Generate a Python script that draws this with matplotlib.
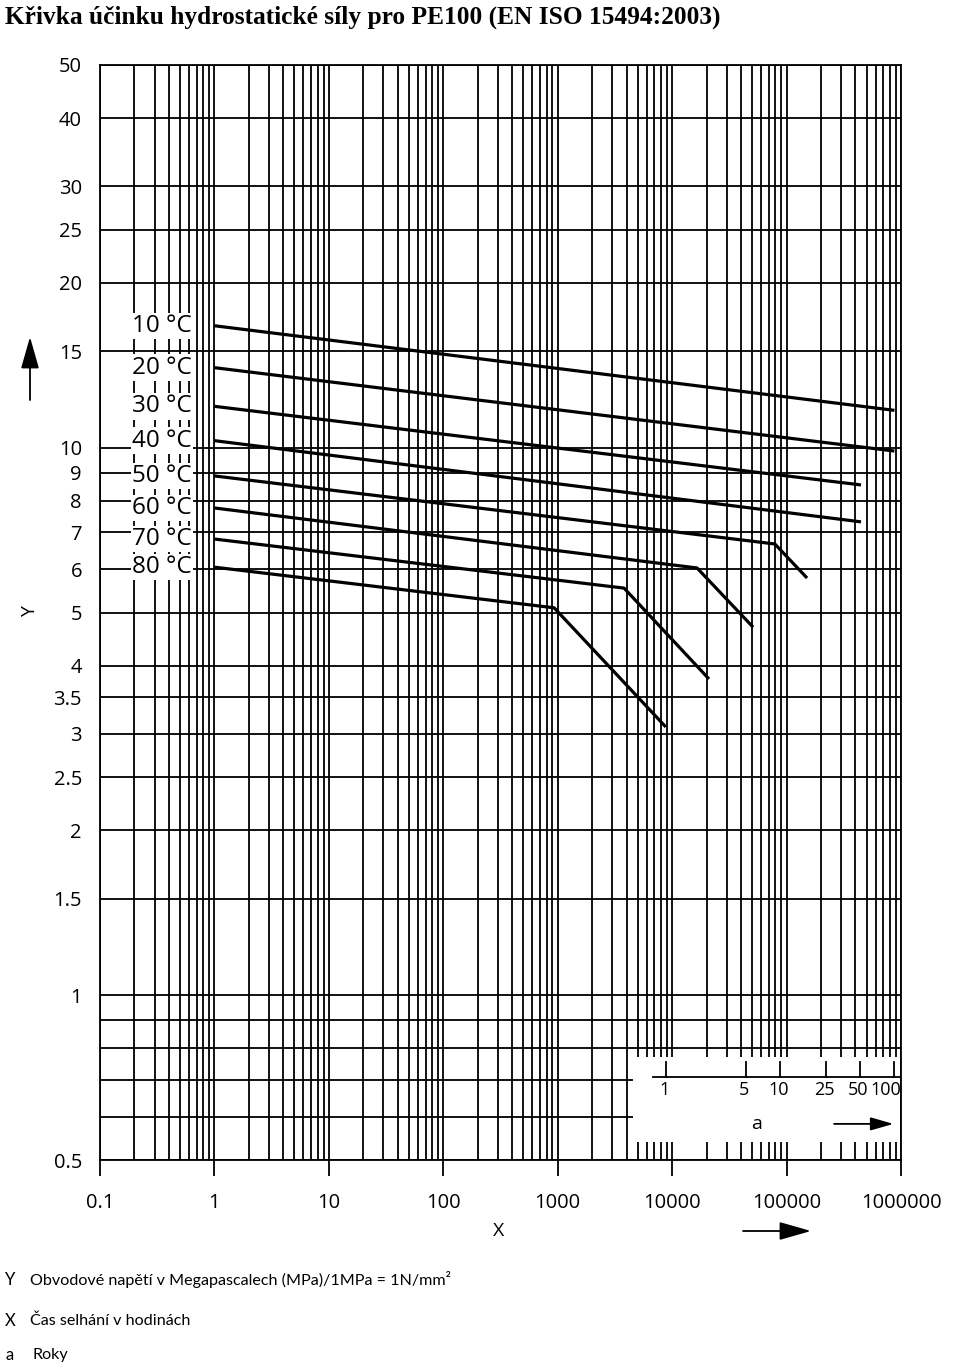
import matplotlib
matplotlib.use("Agg")
import matplotlib.pyplot as plt
import matplotlib.ticker as mticker
from matplotlib.patches import Rectangle, FancyArrowPatch
import numpy as np

plt.rcParams['font.family'] = ['Open Sans', 'DejaVu Sans']

# curves: failure time [h] vs hoop stress [MPa]
temps = ['10 °C', '20 °C', '30 °C', '40 °C', '50 °C', '60 °C', '70 °C', '80 °C']
curve_hours = [
    [1, 876000],
    [1, 876000],
    [1, 447000],
    [1, 447000],
    [1, 79000, 151000],
    [1, 16500, 51000],
    [1, 3800, 21000],
    [1, 930, 8800],
]
curve_stress = [
    [16.7, 11.7],
    [14.0, 9.86],
    [11.9, 8.55],
    [10.3, 7.32],
    [8.88, 6.67, 5.78],
    [7.76, 6.03, 4.70],
    [6.81, 5.54, 3.78],
    [6.05, 5.10, 3.09],
]

x_ticks = [0.1, 1, 10, 100, 1000, 10000, 100000, 1000000]
x_labels = ['0.1', '1', '10', '100', '1000', '10000', '100000', '1000000']
y_ticks = [0.5, 1, 1.5, 2, 2.5, 3, 3.5, 4, 5, 6, 7, 8, 9, 10, 15, 20, 25, 30, 40, 50]
y_labels = ['0.5', '1', '1.5', '2', '2.5', '3', '3.5', '4', '5', '6', '7', '8', '9',
            '10', '15', '20', '25', '30', '40', '50']
y_minor = [0.6, 0.7, 0.8, 0.9]
years = [1, 5, 10, 25, 50, 100]
hours_per_year = 8760

fig = plt.figure(figsize=(9.6, 13.64), dpi=100)
ax = fig.add_axes([100 / 960, 204 / 1364, 801 / 960, 1095 / 1364])
ax.set_xscale('log')
ax.set_yscale('log')
ax.set_xlim(0.1, 1e6)
ax.set_ylim(0.5, 50)

ax.xaxis.set_major_locator(mticker.FixedLocator(x_ticks))
ax.xaxis.set_major_formatter(mticker.FixedFormatter(x_labels))
ax.xaxis.set_minor_locator(mticker.LogLocator(base=10, subs=np.arange(2, 10), numticks=20))
ax.xaxis.set_minor_formatter(mticker.NullFormatter())
ax.yaxis.set_major_locator(mticker.FixedLocator(y_ticks))
ax.yaxis.set_major_formatter(mticker.FixedFormatter(y_labels))
ax.yaxis.set_minor_locator(mticker.FixedLocator(y_minor))
ax.yaxis.set_minor_formatter(mticker.NullFormatter())

ax.tick_params(axis='x', which='major', direction='out', length=11.5, width=1.3,
               pad=12, labelsize=14.5, color='black')
ax.tick_params(axis='x', which='minor', length=0)
ax.tick_params(axis='y', which='both', length=0, pad=13, labelsize=14.5)

ax.set_axisbelow(True)
ax.grid(which='both', color='black', lw=1.3)
for sp in ax.spines.values():
    sp.set_linewidth(1.3)
    sp.set_color('black')

for h, s in zip(curve_hours, curve_stress):
    ax.plot(h, s, color='black', lw=2.3, solid_capstyle='butt', zorder=3)

for lab, s in zip(temps, curve_stress):
    ax.text(0.63, s[0] * 1.0, lab, ha='right', va='center', fontsize=17.5, zorder=4,
            bbox=dict(boxstyle='square,pad=0.05', fc='white', ec='none'))

# years inset
ax.add_patch(Rectangle((4550, 0.539), 9.75e5 - 4550, 0.771 - 0.539,
                       fc='white', ec='none', zorder=4))
ax.plot([6800, 1e6], [0.709, 0.709], color='black', lw=1.3, zorder=5)
for yr in years:
    hx = yr * hours_per_year
    ax.plot([hx, hx], [0.709, 0.755], color='black', lw=1.3, zorder=5)
    last = yr == years[-1]
    ax.text(1e6 if last else hx * 0.97, 0.672, str(yr), ha='right' if last else 'center',
            va='center', fontsize=13, zorder=5)
ax.text(5.5e4, 0.582, 'a', ha='center', va='center', fontsize=14, zorder=5)
ax.annotate('', xy=(8.6e5, 0.582), xytext=(2.6e5, 0.582), zorder=5,
            arrowprops=dict(arrowstyle='-|>,head_length=1.4,head_width=0.4',
                            color='black', lw=1.3, shrinkA=0, shrinkB=0))

# axis letters and arrows
fig.text(499 / 960, 1 - 1231 / 1364, 'X', ha='center', va='center', fontsize=14)
fig.text(30 / 960, 1 - 612 / 1364, 'Y', ha='center', va='center', fontsize=14, rotation=90)
for p0, p1 in [((743, 1231), (811, 1231)), ((30, 400), (30, 337))]:
    fig.add_artist(FancyArrowPatch(
        (p0[0] / 960, 1 - p0[1] / 1364), (p1[0] / 960, 1 - p1[1] / 1364),
        transform=fig.transFigure, arrowstyle='-|>,head_length=1.4,head_width=0.4',
        mutation_scale=14, color='black', lw=1.3, shrinkA=0, shrinkB=0))

fig.text(5 / 960, 1 - 17 / 1364,
         'Křivka účinku hydrostatické síly pro PE100 (EN ISO 15494:2003)',
         ha='left', va='center', fontsize=18.3, fontweight='bold', family='Liberation Serif')

notes = [('Y', 'Obvodové napětí v Megapascalech (MPa)/1MPa = 1N/mm²', 1280, 30),
         ('X', 'Čas selhání v hodinách', 1321, 30),
         ('a', 'Roky', 1355, 33)]
for letter, txt, py, px in notes:
    fig.text(5 / 960, 1 - py / 1364, letter, ha='left', va='center', fontsize=12,
             family=['Lato', 'DejaVu Sans'])
    fig.text(px / 960, 1 - py / 1364, txt, ha='left', va='center', fontsize=11.6,
             family=['Lato', 'DejaVu Sans'])

fig.savefig('out.png', dpi=100)
